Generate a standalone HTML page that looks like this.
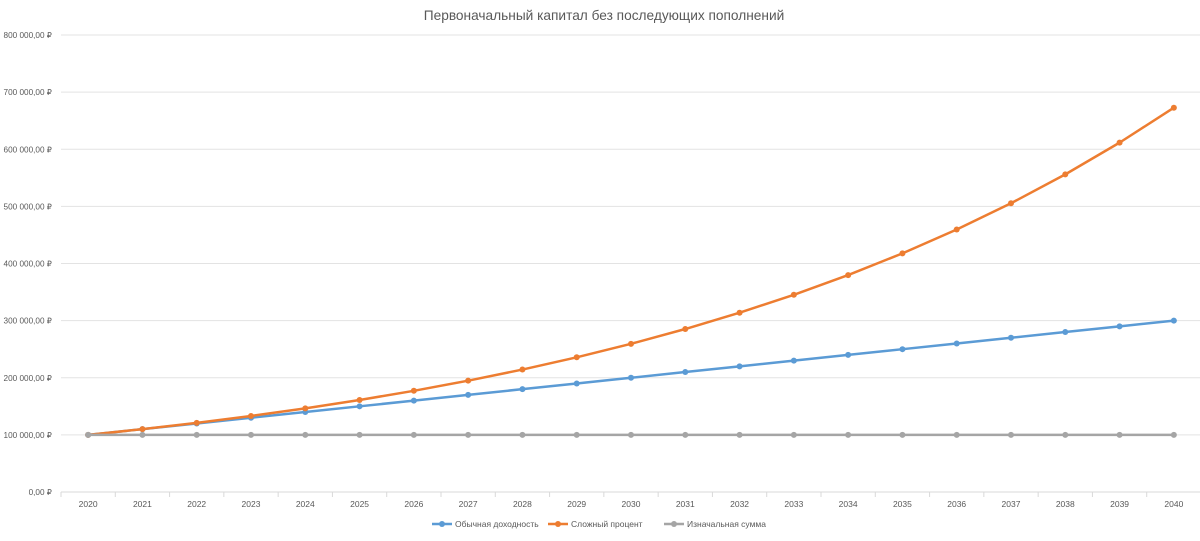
<!DOCTYPE html>
<html><head><meta charset="utf-8"><style>
body{margin:0;background:#fff;}
svg text{font-family:"Liberation Sans",sans-serif;fill:#595959;}
</style></head><body>
<svg id="chart" width="1200" height="536" xmlns="http://www.w3.org/2000/svg">
<text x="604" y="20" text-anchor="middle" font-size="13.7">Первоначальный капитал без последующих пополнений</text>
<g id="grid"></g><g id="axes"></g><g id="series"></g>
<g>
<g><line x1="432" y1="524" x2="452" y2="524" stroke="#5b9bd5" stroke-width="2.5"/><circle cx="442" cy="524" r="3" fill="#5b9bd5"/><text x="455" y="527" font-size="8.5">Обычная доходность</text></g>
<g><line x1="548" y1="524" x2="568" y2="524" stroke="#ed7d31" stroke-width="2.5"/><circle cx="558" cy="524" r="3" fill="#ed7d31"/><text x="571" y="527" font-size="8.5">Сложный процент</text></g>
<g><line x1="664" y1="524" x2="684" y2="524" stroke="#a5a5a5" stroke-width="2.5"/><circle cx="674" cy="524" r="3" fill="#a5a5a5"/><text x="687" y="527" font-size="8.5">Изначальная сумма</text></g>
</g>
</svg>
<script>
const years=[2020,2021,2022,2023,2024,2025,2026,2027,2028,2029,2030,2031,2032,2033,2034,2035,2036,2037,2038,2039,2040];
const simple=[100000,110000,120000,130000,140000,150000,160000,170000,180000,190000,200000,210000,220000,230000,240000,250000,260000,270000,280000,290000,300000];
const compound=[100000,110000,121000,133100,146410,161051,177156,194872,214359,235795,259374,285312,313843,345227,379750,417725,459497,505447,555992,611591,672750];
const initial=[100000,100000,100000,100000,100000,100000,100000,100000,100000,100000,100000,100000,100000,100000,100000,100000,100000,100000,100000,100000,100000];
const yTicks=[0,100000,200000,300000,400000,500000,600000,700000,800000];
const yTickLabels=["0,00 ₽","100 000,00 ₽","200 000,00 ₽","300 000,00 ₽","400 000,00 ₽","500 000,00 ₽","600 000,00 ₽","700 000,00 ₽","800 000,00 ₽"];
const NS="http://www.w3.org/2000/svg";
const L=61,R=1201,T=35,B=492,yMax=800000;
const step=(R-L)/years.length;
const X=i=>L+step*(i+0.5);
const Y=v=>B-(v/yMax)*(B-T);
function mk(tag,attrs,parent){const e=document.createElementNS(NS,tag);for(const k in attrs)e.setAttribute(k,attrs[k]);parent.appendChild(e);return e;}
const grid=document.getElementById('grid'),axes=document.getElementById('axes'),ser=document.getElementById('series');
yTicks.forEach((v,i)=>{
 const ln=mk('line',{x1:L,x2:R,y1:Y(v),y2:Y(v),stroke:i===0?'#d9d9d9':'#e3e3e3','stroke-width':1},grid);
 
 
 const t=mk('text',{x:52,y:Y(v)+3,'text-anchor':'end','font-size':8.2},axes);
 t.textContent=yTickLabels[i];
 
 
});
for(let i=0;i<=years.length;i++){
 const tk=mk('line',{x1:L+step*i,x2:L+step*i,y1:B,y2:B+5,stroke:'#d9d9d9'},axes);
 
 
}
years.forEach((yr,i)=>{
 const t=mk('text',{x:X(i),y:507,'text-anchor':'middle','font-size':8.5},axes);
 t.textContent=yr;
 
 
});
function draw(data,color,name){
 const g=mk('g',{},ser);
 
 
 const p=mk('polyline',{points:data.map((v,i)=>X(i)+','+Y(v)).join(' '),fill:'none',stroke:color,'stroke-width':2.5,'stroke-linejoin':'round'},g);
 
 
 data.forEach((v,i)=>{
  const c=mk('circle',{cx:X(i),cy:Y(v),r:3,fill:color},g);
  
  
 });
}
draw(simple,'#5b9bd5','series-simple');
draw(compound,'#ed7d31','series-compound');
draw(initial,'#a5a5a5','series-initial');
</script>
</body></html>
